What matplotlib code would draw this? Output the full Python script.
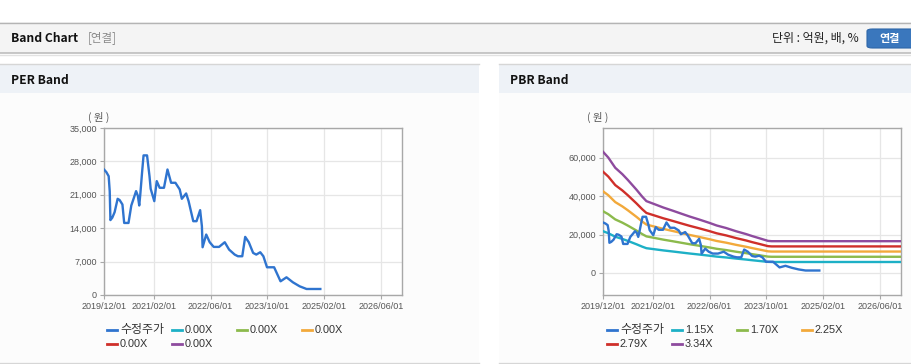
import matplotlib
matplotlib.use('Agg')
import matplotlib.pyplot as plt
from matplotlib.lines import Line2D
from matplotlib.patches import Rectangle, FancyBboxPatch
import pandas as pd

# ---------------- data ----------------
price_dates = ['2019-12-01', '2019-12-21', '2020-01-10', '2020-01-19', '2020-01-25', '2020-02-10',
               '2020-03-01', '2020-03-27', '2020-04-13', '2020-05-07', '2020-05-22', '2020-06-28',
               '2020-07-22', '2020-08-16', '2020-09-01', '2020-09-16', '2020-09-28', '2020-10-07',
               '2020-10-22', '2020-11-04', '2020-12-04', '2020-12-25', '2021-01-04', '2021-02-04',
               '2021-02-25', '2021-03-22', '2021-04-28', '2021-05-28', '2021-06-28', '2021-08-04',
               '2021-09-10', '2021-09-28', '2021-11-04', '2021-11-25', '2022-01-04', '2022-02-01',
               '2022-03-04', '2022-03-19', '2022-03-25', '2022-04-25', '2022-05-25', '2022-06-28',
               '2022-08-13', '2022-10-01', '2022-11-07', '2022-12-25', '2023-01-22', '2023-02-28',
               '2023-03-25', '2023-04-25', '2023-06-01', '2023-06-28', '2023-08-01', '2023-08-28',
               '2023-09-28', '2023-11-28', '2024-01-22', '2024-03-13', '2024-05-07', '2024-07-04',
               '2024-09-01', '2024-12-28']
price_values = [26300, 25760, 24900, 21770, 15700, 16200,
                17360, 20160, 19900, 18970, 15100, 15100,
                18760, 20580, 21770, 20800, 18760, 21070,
                25600, 29260, 29260, 24900, 22260, 19670,
                23870, 22470, 22470, 26300, 23520, 23520,
                22120, 20160, 21280, 19670, 15470, 15470,
                17780, 14420, 10010, 12670, 11060, 10080,
                10080, 11060, 9520, 8470, 8120, 8120,
                12180, 11060, 8820, 8470, 8960, 8120,
                5810, 5810, 2870, 3710, 2660, 1820,
                1260, 1260]

bps_dates = ['2019-12-01', '2020-01-15', '2020-03-15', '2020-05-15', '2020-07-01', '2020-09-12',
             '2020-11-01', '2020-12-07', '2021-02-18', '2021-05-01', '2021-07-22', '2021-10-01',
             '2021-12-12', '2022-03-01', '2022-06-01', '2022-08-01', '2022-10-22', '2023-01-15',
             '2023-04-12', '2023-06-01', '2023-08-04', '2023-10-15', '2023-11-15', '2026-12-01']
bps_values = [18900, 18000, 16400, 15400, 14500, 13000,
              11900, 11200, 10700, 10200, 9700, 9250,
              8800, 8350, 7800, 7400, 7000, 6500,
              6050, 5750, 5400, 5000, 4950, 4950]

pbr_multiples = [1.15, 1.70, 2.25, 2.79, 3.34]
pbr_labels = ['1.15X', '1.70X', '2.25X', '2.79X', '3.34X']
per_labels = ['0.00X', '0.00X', '0.00X', '0.00X', '0.00X']
price_label = '수정주가'

x_tick_dates = ['2019-12-01', '2021-02-01', '2022-06-01', '2023-10-01', '2025-02-01', '2026-06-01']
x_tick_labels = ['2019/12/01', '2021/02/01', '2022/06/01', '2023/10/01', '2025/02/01', '2026/06/01']
x_range = ['2019-12-01', '2026-11-28']
per_yticks = [0, 7000, 14000, 21000, 28000, 35000]
per_ylim = [0, 35000]
pbr_yticks = [0, 20000, 40000, 60000]
pbr_ylim = [-11500, 75500]

# ---------------- styles ----------------
C_PRICE = '#2f74cf'
BAND_COLORS = ['#1db0c6', '#8cba4c', '#f2a93b', '#cf2f2a', '#8e4b9e']
KR = ['Noto Sans CJK KR', 'DejaVu Sans']
NUM = ['Liberation Sans', 'DejaVu Sans']
TICK_C = '#555555'

W, H = 912, 364
fig = plt.figure(figsize=(W / 100, H / 100), dpi=100)
fig.patch.set_facecolor('white')


def fx(x):
    return x / W


def fy(y):
    return 1 - y / H


def rect(x0, y0, x1, y1, color, z=0):
    fig.add_artist(Rectangle((fx(x0), fy(y1)), fx(x1) - fx(x0), fy(y0) - fy(y1),
                             transform=fig.transFigure, facecolor=color, edgecolor='none', zorder=z))


def hline(x0, x1, y, color, lw=1.0, z=1):
    fig.add_artist(Line2D([fx(x0), fx(x1)], [fy(y), fy(y)], transform=fig.transFigure,
                          color=color, lw=lw, zorder=z))


# top header bar
rect(0, 22, W, 53, '#f4f4f4')
hline(0, W, 22.5, '#b4b4b4')
hline(0, W, 53, '#bdbdbd', lw=1.2)
hline(0, W, 54.5, '#e2e2e2', lw=1.0)
fig.text(fx(11), fy(38), 'Band Chart', family=KR, fontsize=8.7, fontweight='bold',
         color='#111111', va='center', ha='left')
fig.text(fx(88), fy(38), '[연결]', family=KR, fontsize=8.3, color='#8a8a8a', va='center', ha='left')
fig.text(fx(859), fy(38), '단위 : 억원, 배, %', family=KR, fontsize=8.6, color='#222222',
         va='center', ha='right')
btn = FancyBboxPatch((fx(867), fy(48)), fx(912) - fx(867) + 0.01, fy(29) - fy(48),
                     boxstyle='round,pad=0,rounding_size=0.006', transform=fig.transFigure,
                     facecolor='#3a77bd', edgecolor='#2e66a8', lw=0.8, zorder=2)
fig.add_artist(btn)
fig.text(fx(890), fy(38.5), '연결', family=KR, fontsize=8, fontweight='bold', color='white',
         va='center', ha='center', zorder=3)

# panels
for (px0, px1, title) in [(0, 479, 'PER Band'), (499, W, 'PBR Band')]:
    rect(px0, 64, px1, 93, '#eef2f7')
    rect(px0, 93, px1, 362, '#fcfcfc')
    hline(px0, px1, 64, '#d6d6d6')
    hline(px0, px1, 362.5, '#d6d6d6')
    fig.text(fx(px0 + 11), fy(80), title, family=KR, fontsize=8.7, fontweight='bold',
             color='#111111', va='center', ha='left')

price_x = pd.to_datetime(price_dates)
bps_x = pd.to_datetime(bps_dates)
xt = pd.to_datetime(x_tick_dates)
xr = pd.to_datetime(x_range)


def style_axes(ax, yticks, ylim):
    ax.set_facecolor('white')
    ax.set_xlim(xr[0], xr[1])
    ax.set_ylim(*ylim)
    ax.set_xticks(xt)
    ax.set_xticklabels(x_tick_labels)
    ax.set_yticks(yticks)
    ax.set_yticklabels([f'{v:,}' for v in yticks])
    ax.grid(True, color='#e6e6e6', lw=0.9)
    ax.set_axisbelow(True)
    for s in ax.spines.values():
        s.set_color('#a8a8a8')
        s.set_linewidth(1.0)
    ax.tick_params(axis='both', length=3, color='#a8a8a8', labelcolor=TICK_C, labelsize=6.5, pad=2)
    for lab in ax.get_xticklabels() + ax.get_yticklabels():
        lab.set_family(NUM)


# PER axes
ax1 = fig.add_axes([fx(104), fy(295), fx(402) - fx(104), fy(128) - fy(295)])
style_axes(ax1, per_yticks, per_ylim)
ax1.plot(price_x, price_values, color=C_PRICE, lw=1.7, zorder=5)
fig.text(fx(99), fy(117), '( 원 )', family=KR, fontsize=7.5, color=TICK_C, ha='center', va='center')

# PBR axes
ax2 = fig.add_axes([fx(603), fy(295), fx(901) - fx(603), fy(128) - fy(295)])
style_axes(ax2, pbr_yticks, pbr_ylim)
for mult, col in zip(pbr_multiples, BAND_COLORS):
    ax2.plot(bps_x, [mult * b for b in bps_values], color=col, lw=1.7, zorder=4)
ax2.plot(price_x, price_values, color=C_PRICE, lw=1.7, zorder=5)
fig.text(fx(598), fy(117), '( 원 )', family=KR, fontsize=7.5, color=TICK_C, ha='center', va='center')


# legends
def legend(x_base, labels):
    cols = [0, 65, 130, 195]
    items = [(price_label, C_PRICE)] + list(zip(labels, BAND_COLORS))
    for i, (lab, col) in enumerate(items):
        r, c = divmod(i, 4)
        x = x_base + cols[c]
        y = 330 + r * 14
        fig.add_artist(Line2D([fx(x), fx(x + 10)], [fy(y), fy(y)], transform=fig.transFigure,
                              color=col, lw=2.0))
        if i == 0:
            fig.text(fx(x + 13), fy(y), lab, family=KR, fontsize=8.6, color='#333333',
                     ha='left', va='center')
        else:
            fig.text(fx(x + 13), fy(y), lab, family=NUM, fontsize=7.8, color='#333333',
                     ha='left', va='center')


legend(107, per_labels)
legend(607, pbr_labels)

fig.savefig('out.png', dpi=100, facecolor=fig.get_facecolor())
